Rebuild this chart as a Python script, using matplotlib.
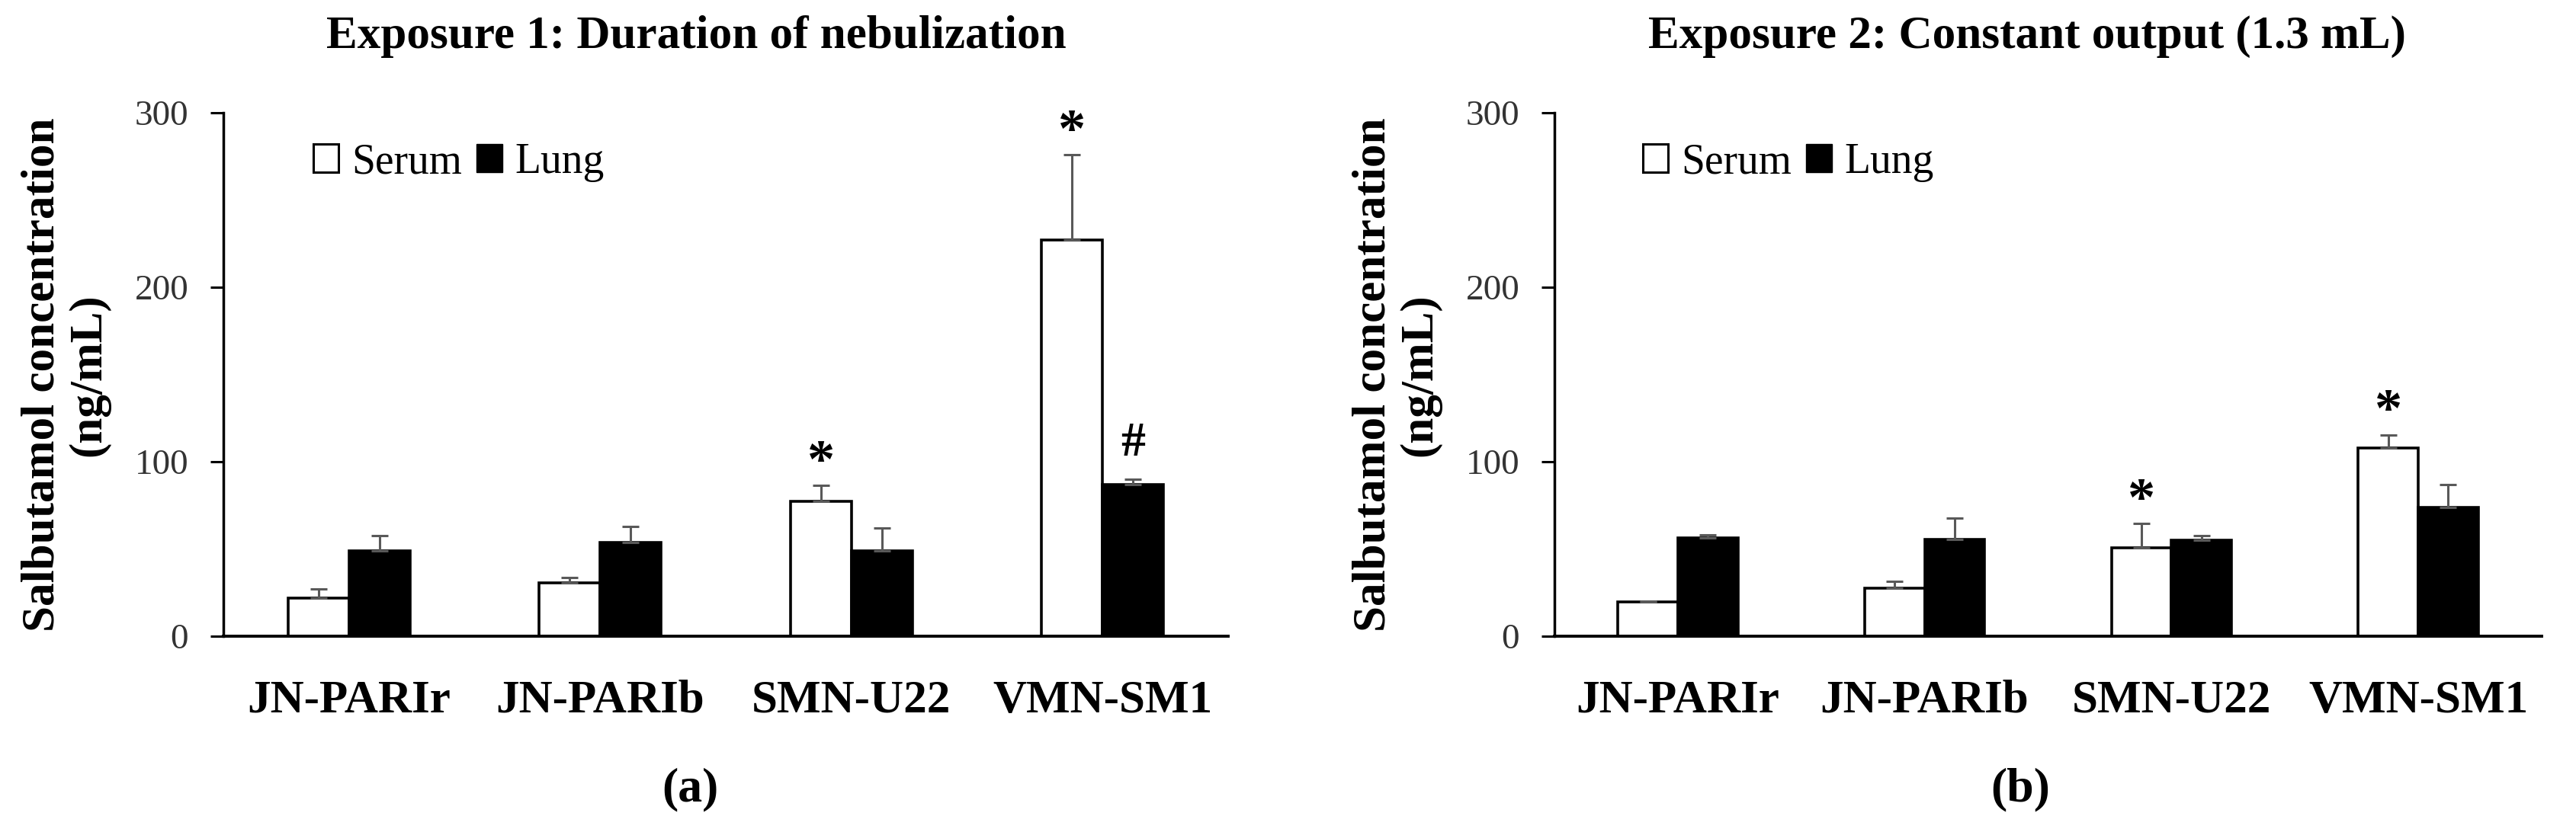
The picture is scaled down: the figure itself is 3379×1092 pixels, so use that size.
import numpy as np
import matplotlib
matplotlib.use("Agg")
import matplotlib.pyplot as plt
from matplotlib.patches import Patch

plt.rcParams['font.family'] = ['Liberation Serif', 'DejaVu Serif']

devices = ["JN-PARIr", "JN-PARIb", "SMN-U22", "VMN-SM1"]

# exposure 1: duration of nebulization
serum_1 = [22, 30.5, 77.5, 227]
serum_1_sd = [5, 3, 9, 49]
lung_1 = [49, 53.5, 49, 87]
lung_1_sd = [8.5, 9.5, 13, 3]
marks_1 = [("*", "serum", 2), ("*", "serum", 3), ("#", "lung", 3)]

# exposure 2: constant output (1.3 mL)
serum_2 = [19.5, 27.5, 50.5, 108]
serum_2_sd = [0.5, 4, 14, 7.5]
lung_2 = [56.5, 55.5, 55, 74]
lung_2_sd = [1.5, 12, 2.5, 13]
marks_2 = [("*", "serum", 2), ("*", "serum", 3)]

titles = ["Exposure 1: Duration of nebulization", "Exposure 2: Constant output (1.3 mL)"]
panel_tags = ["(a)", "(b)"]

W, H = 3380, 1092
fig = plt.figure(figsize=(W / 100, H / 100), dpi=100)

ax_boxes = [(293, 1611), (2039, 3334)]
y0, y1 = 835, 148
bw = 0.243
err_col = "#595959"


def draw(ax, serum, serum_sd, lung, lung_sd, marks):
    x = np.arange(len(devices))
    ax.bar(x - bw / 2, serum, bw, color="white", edgecolor="black", linewidth=2.6,
           yerr=[np.zeros(len(serum)), serum_sd], error_kw=dict(ecolor=err_col, elinewidth=2.2,
                                                              capsize=8, capthick=2.2))
    ax.bar(x + bw / 2, lung, bw, color="black", edgecolor="black", linewidth=2.6,
           yerr=[np.zeros(len(lung)), lung_sd], error_kw=dict(ecolor=err_col, elinewidth=2.2,
                                                            capsize=8, capthick=2.2))
    for sym, which, i in marks:
        if which == "serum":
            xi, top = i - bw / 2, serum[i] + serum_sd[i]
        else:
            xi, top = i + bw / 2, lung[i] + lung_sd[i]
        off = 8 if sym == "*" else 22
        size = 52 if sym == "*" else 46
        ax.annotate(sym, (xi, top), xytext=(0, off), textcoords="offset points",
                    ha="center", va="baseline", fontsize=size, fontweight="bold")

    ax.set_xlim(-0.5, len(devices) - 0.5)
    ax.set_ylim(0, 300)
    ax.set_yticks([0, 100, 200, 300])
    ax.set_xticks(x)
    ax.set_xticklabels(devices, fontsize=44, fontweight="bold")
    for s in ["top", "right"]:
        ax.spines[s].set_visible(False)
    ax.spines["left"].set_linewidth(2.5)
    ax.spines["bottom"].set_linewidth(2.8)
    ax.tick_params(axis="y", length=12, width=2.2, pad=21, labelsize=34, labelcolor="#333333")
    ax.tick_params(axis="x", length=0, pad=41)

    handles = [Patch(facecolor="white", edgecolor="black", linewidth=2.2, label="Serum"),
               Patch(facecolor="black", edgecolor="black", label="Lung")]
    ax.legend(handles=handles, loc="center left", ncol=2, frameon=False, fontsize=40,
              bbox_to_anchor=(0.0895, 0.905), borderpad=0, borderaxespad=0,
              handlelength=0.6, handleheight=0.65, handletextpad=0.3, columnspacing=0.35)


data = [(serum_1, serum_1_sd, lung_1, lung_1_sd, marks_1),
        (serum_2, serum_2_sd, lung_2, lung_2_sd, marks_2)]

for k, (xl, xr) in enumerate(ax_boxes):
    ax = fig.add_axes([xl / W, 1 - y0 / H, (xr - xl) / W, (y0 - y1) / H])
    draw(ax, *data[k])
    fig.text((xl - 207) / W, 1 - 492 / H, "Salbutamol concentration\n(ng/mL)", rotation=90,
             ha="center", va="center", fontsize=44, fontweight="bold", linespacing=1.1)
    tx = [913, 2659][k]
    fig.text(tx / W, 1 - 48 / H, titles[k], ha="center", va="center", fontsize=44,
             fontweight="bold")
    fig.text([905, 2650][k] / W, 1 - 1036 / H, panel_tags[k], ha="center", va="center",
             fontsize=46, fontweight="bold")

fig.savefig("out.png", dpi=100)
